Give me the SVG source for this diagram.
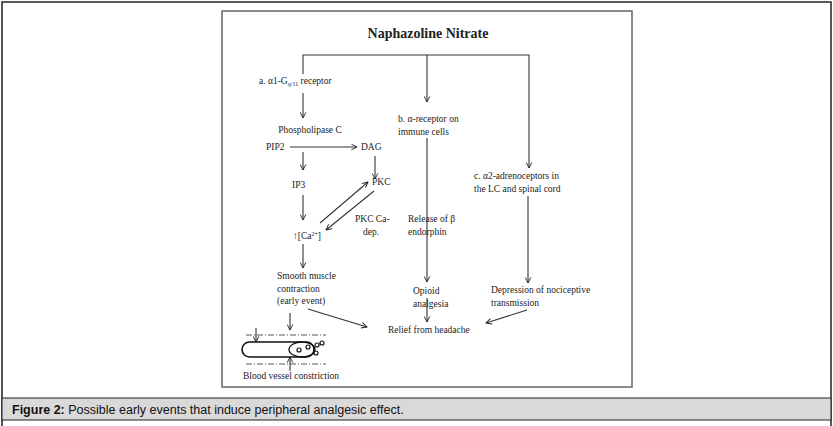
<svg xmlns="http://www.w3.org/2000/svg" width="833" height="426" viewBox="0 0 833 426">
<defs>
<marker id="ah" viewBox="0 0 10 10" refX="9" refY="5" markerWidth="7" markerHeight="7" orient="auto-start-reverse" markerUnits="userSpaceOnUse"><path d="M1,1 L9,5 L1,9" fill="none" stroke="#222" stroke-width="1.3"/></marker>
<style>
text{font-family:"Liberation Serif",serif;font-size:9.5px;fill:#222}
.c line,.c path{stroke:#333;stroke-width:1.1;fill:none}
.a{marker-end:url(#ah)}
</style>
</defs>
<rect x="0" y="0" width="833" height="426" fill="#fff"/>
<path d="M2,426 V2 H831 V426" fill="none" stroke="#222" stroke-width="1.5"/>
<rect x="222" y="11" width="410" height="376" fill="#fff" stroke="#666" stroke-width="1.5"/>
<rect x="2" y="398" width="829" height="22" fill="#d9d9d9" stroke="#222" stroke-width="1"/>
<text x="12" y="414" style="font-family:'Liberation Sans',sans-serif;font-size:12.5px;fill:#111"><tspan font-weight="bold">Figure 2:</tspan> Possible early events that induce peripheral analgesic effect.</text>
<text x="428" y="38" text-anchor="middle" style="font-size:14px;font-weight:bold">Naphazoline Nitrate</text>
<g class="c" id="connectors">
<path d="M303,74 V55 H529 V168" class="a"/>
<line x1="427" y1="55" x2="427" y2="102" class="a"/>
<line x1="303" y1="93" x2="303" y2="118" class="a"/>
<line x1="290" y1="147" x2="357" y2="147" class="a"/>
<line x1="303" y1="152" x2="303" y2="170" class="a"/>
<line x1="375" y1="156" x2="375" y2="179" class="a"/>
<line x1="303" y1="195" x2="303" y2="220" class="a"/>
<line x1="320" y1="223" x2="368" y2="182" class="a"/>
<line x1="374" y1="191" x2="326" y2="230" class="a"/>
<line x1="427" y1="138" x2="427" y2="282" class="a"/>
<line x1="427" y1="298" x2="427" y2="322" class="a"/>
<line x1="528" y1="196" x2="528" y2="283" class="a"/>
<line x1="527" y1="310" x2="486" y2="323" class="a"/>
<line x1="303" y1="244" x2="303" y2="268" class="a"/>
<line x1="308" y1="309" x2="367" y2="327" class="a"/>
<line x1="290" y1="313" x2="290" y2="330" class="a"/>
<line x1="256" y1="328" x2="256" y2="342" class="a"/>
<line x1="290" y1="371" x2="290" y2="357" class="a"/>
</g>
<g id="vessel" fill="none" stroke="#111">
<line x1="246" y1="335" x2="326" y2="335" stroke-width="0.7" stroke-dasharray="6,2,1,2"/>
<line x1="246" y1="364" x2="326" y2="364" stroke-width="0.7" stroke-dasharray="6,2,1,2"/>
<rect x="242" y="342" width="72" height="15" rx="7.5" stroke-width="1.6"/>
<ellipse cx="302" cy="349.5" rx="13" ry="7.5" stroke-width="1.3"/>
<circle cx="299" cy="350" r="2" stroke-width="1.2"/>
<circle cx="308" cy="347" r="2" stroke-width="1.2"/>
<circle cx="317" cy="345" r="2" stroke-width="1.2"/>
<circle cx="322" cy="343" r="2" stroke-width="1.2"/>
<circle cx="316" cy="353" r="2" stroke-width="1.2"/>
</g>
<g id="n-a"><text x="259" y="84">a. α1-G<tspan font-size="6" dy="2">q/11</tspan><tspan dy="-2"> receptor</tspan></text></g>
<g id="n-plc"><text x="310" y="133" text-anchor="middle">Phospholipase C</text></g>
<g id="n-b"><text x="398" y="122">b. α-receptor on</text><text x="398" y="135">immune cells</text></g>
<g id="n-pip2"><text x="266" y="150">PIP2</text></g>
<g id="n-dag"><text x="361" y="150">DAG</text></g>
<g id="n-ip3"><text x="292" y="188">IP3</text></g>
<g id="n-pkc"><text x="372" y="185">PKC</text></g>
<g id="n-pkcca"><text x="355" y="222">PKC Ca-</text><text x="363" y="235">dep.</text></g>
<g id="n-ca"><text x="293" y="239">↑[Ca<tspan font-size="6" dy="-3">2+</tspan><tspan dy="3">]</tspan></text></g>
<g id="n-c"><text x="474" y="179">c. α2-adrenoceptors in</text><text x="474" y="192">the LC and spinal cord</text></g>
<g id="n-rel"><text x="408" y="222">Release of β</text><text x="408" y="235">endorphin</text></g>
<g id="n-op"><text x="413" y="294">Opioid</text><text x="413" y="307">analgesia</text></g>
<g id="n-dep"><text x="491" y="293">Depression of nociceptive</text><text x="491" y="306">transmission</text></g>
<g id="n-sm"><text x="277" y="279">Smooth muscle</text><text x="277" y="292">contraction</text><text x="277" y="304">(early event)</text></g>
<g id="n-relief"><text x="388" y="333">Relief from headache</text></g>
<g id="n-bv"><text x="243" y="379">Blood vessel constriction</text></g>
</svg>
